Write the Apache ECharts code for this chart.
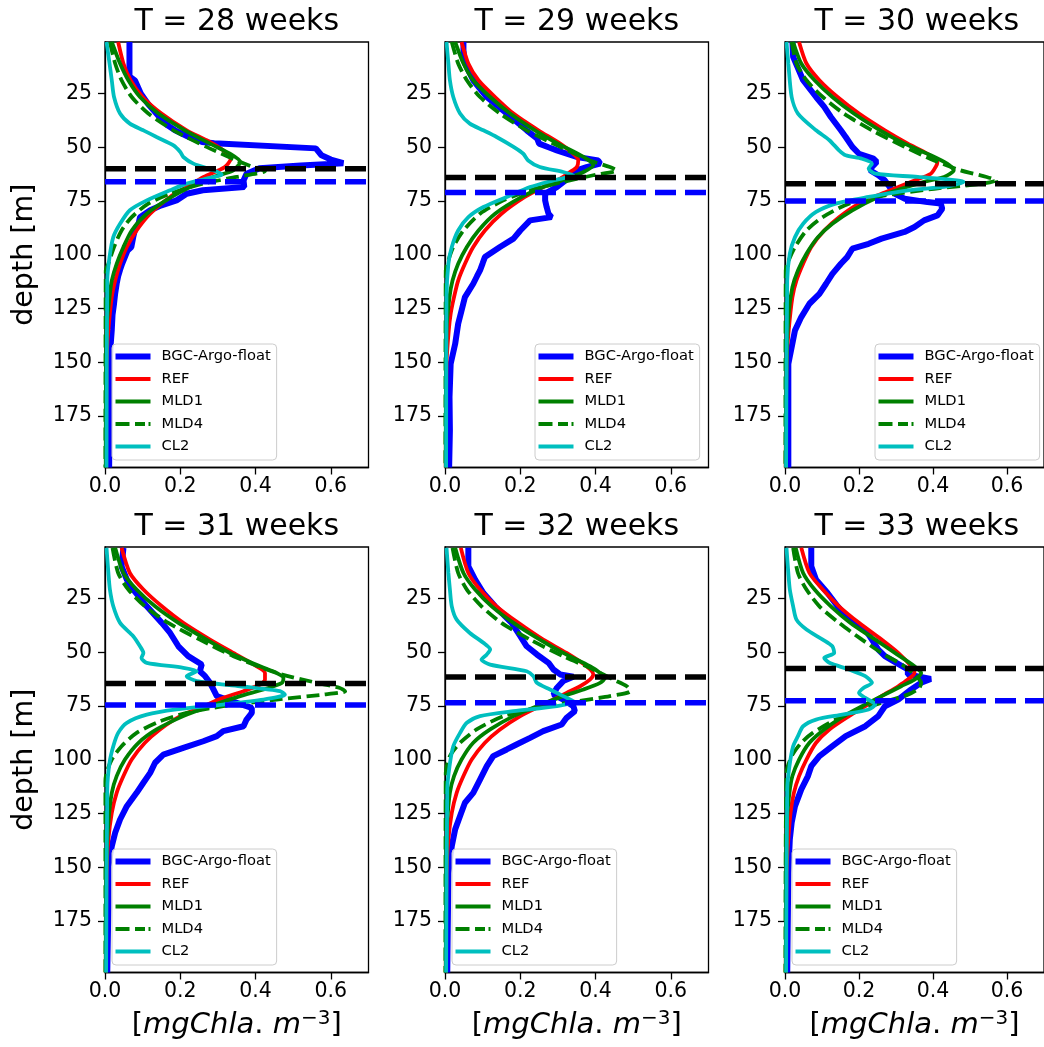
<!DOCTYPE html>
<html><head><meta charset="utf-8">
<script src="https://cdn.jsdelivr.net/npm/echarts@6/dist/echarts.min.js"></script>
<style>html,body{margin:0;padding:0;background:#fff;overflow:hidden}#c{width:1044px;height:1047px}</style>
</head><body><div id="c"></div>
<script>
// ---------------- DATA (pairs are [depth m, chl mg m^-3]) ----------------
const weeks = [28, 29, 30, 31, 32, 33];
const seriesNames = ['BGC-Argo-float', 'REF', 'MLD1', 'MLD4', 'CL2'];
const xTicks = [0, 0.2, 0.4, 0.6];
const yTicks = [25, 50, 75, 100, 125, 150, 175];
const depthMin = 1, depthMax = 199;
const blackLineDepth = [60, 64, 67, 64.5, 61.5, 57.5];
const blueLineDepth  = [66, 71, 75, 74.5, 73.5, 72.5];

const float28 = [[1,0.065],[17,0.065],[19,0.08],[21,0.085],[25,0.095],[30,0.115],[35,0.14],[40,0.168],[42,0.185],[45,0.22],[47.5,0.258],[48.1,0.29],[50.5,0.56],[53.7,0.575],[55.7,0.6],[57.4,0.633],[58.5,0.52],[59.8,0.41],[62.3,0.376],[65.4,0.368],[68.5,0.37],[70,0.26],[71.6,0.217],[74.7,0.19],[77,0.15],[79.3,0.12],[82.5,0.093],[85.6,0.089],[88,0.08],[91.8,0.075],[96.4,0.07],[98,0.06],[101,0.053],[104,0.046],[107,0.04],[110,0.035],[113.5,0.031],[118,0.027],[122.8,0.024],[128,0.02],[135,0.018],[142,0.015],[150.8,0.013],[165,0.012],[180,0.012],[199,0.011]];
const ref28 = [[1,0.035],[11,0.049],[18.8,0.068],[26.6,0.10],[34.3,0.15],[42.1,0.217],[46.7,0.27],[51.4,0.314],[55.3,0.334],[59.2,0.318],[63.8,0.262],[68.5,0.217],[73.1,0.173],[80.9,0.12],[88.7,0.084],[96.4,0.058],[104.2,0.04],[112,0.027],[119.7,0.018],[135.2,0.009],[150.8,0.004],[199,0.003]];
const mld1_28 = [[1,0.018],[11,0.04],[18.8,0.062],[26.6,0.093],[34.3,0.142],[42.1,0.212],[48.3,0.279],[53,0.332],[56.8,0.359],[60.7,0.341],[63.8,0.288],[68.5,0.226],[73.1,0.177],[80.9,0.111],[88.7,0.071],[96.4,0.049],[104.2,0.031],[112,0.018],[119.7,0.012],[135.2,0.004],[199,0.002]];
const mld4_28 = [[1,0.013],[11,0.027],[18.8,0.044],[26.6,0.071],[34.3,0.115],[42.1,0.182],[49.8,0.27],[56.1,0.35],[59.2,0.394],[61,0.425],[63.8,0.35],[66.9,0.261],[71.6,0.173],[76.2,0.115],[82.5,0.071],[88.7,0.044],[96.4,0.024],[104.2,0.009],[107.3,0.002],[199,0.001]];
const cl2_28 = [[1,0.004],[11,0.012],[18.8,0.018],[26.6,0.024],[34.3,0.04],[39,0.066],[42.1,0.102],[45.2,0.137],[49.1,0.182],[52.2,0.2],[54.5,0.208],[57.6,0.235],[60.7,0.288],[62.6,0.31],[64.6,0.27],[66.9,0.217],[70,0.173],[74.7,0.111],[79.3,0.066],[85.6,0.04],[91.8,0.022],[101.1,0.012],[112,0.006],[199,0.004]];

const float29 = [[1,0.049],[4.8,0.049],[11,0.053],[18.8,0.075],[26.6,0.111],[34.3,0.164],[42.1,0.217],[46,0.245],[48.3,0.25],[50,0.275],[51.4,0.297],[54.5,0.35],[56.1,0.407],[57.6,0.412],[59.2,0.376],[60.7,0.35],[63.8,0.332],[68.5,0.297],[71.6,0.266],[74.7,0.266],[77.8,0.27],[80.9,0.275],[82.5,0.283],[84,0.226],[88.7,0.2],[92.5,0.182],[96.4,0.146],[101.1,0.106],[104,0.1],[107.3,0.093],[110,0.085],[113.5,0.075],[119.7,0.053],[125.9,0.044],[132.1,0.035],[141.5,0.027],[150.8,0.015],[166.3,0.012],[181.8,0.013],[199,0.011]];
const ref29 = [[1,0.044],[11,0.062],[18.8,0.089],[26.6,0.133],[34.3,0.182],[42.1,0.248],[48.3,0.306],[53,0.341],[56.1,0.354],[59.2,0.35],[61.5,0.332],[64.6,0.306],[68.5,0.261],[73.1,0.212],[80.9,0.15],[88.7,0.106],[96.4,0.075],[104.2,0.053],[112,0.035],[119.7,0.024],[127.5,0.015],[135.2,0.01],[150.8,0.004],[199,0.002]];
const mld1_29 = [[1,0.027],[11,0.049],[18.8,0.075],[26.6,0.12],[34.3,0.173],[42.1,0.239],[48.3,0.30],[54.5,0.368],[58.4,0.394],[61.5,0.368],[64.6,0.323],[68.5,0.261],[73.1,0.204],[80.9,0.133],[88.7,0.089],[96.4,0.058],[104.2,0.035],[112,0.02],[119.7,0.012],[135.2,0.004],[199,0.002]];
const mld4_29 = [[1,0.018],[11,0.035],[18.8,0.058],[26.6,0.093],[34.3,0.146],[42.1,0.217],[49.8,0.306],[56.1,0.385],[59.2,0.438],[60.7,0.456],[63,0.394],[66.1,0.314],[70,0.226],[74.7,0.155],[80.9,0.093],[88.7,0.049],[96.4,0.022],[104.2,0.006],[107.3,0.002],[199,0.001]];
const cl2_29 = [[1,0.004],[11,0.009],[18.8,0.013],[26.6,0.022],[34.3,0.04],[39,0.066],[42.1,0.102],[45.2,0.137],[49.8,0.182],[53,0.208],[56.1,0.221],[59.2,0.252],[61.5,0.314],[63,0.341],[65.4,0.288],[68.5,0.226],[73.1,0.164],[77.8,0.102],[82.5,0.062],[88.7,0.035],[96.4,0.018],[104.2,0.009],[119.7,0.004],[199,0.003]];

const float30 = [[1,0.02],[7.9,0.022],[18.8,0.049],[26.6,0.084],[31.2,0.106],[35.9,0.124],[42.1,0.151],[45.2,0.164],[49.8,0.182],[53,0.2],[55.3,0.239],[56.8,0.248],[59.2,0.235],[60.7,0.23],[63,0.252],[65.4,0.27],[68.5,0.283],[71.6,0.297],[73.9,0.323],[75.5,0.385],[76.2,0.421],[78.6,0.425],[81.7,0.412],[84,0.376],[87.1,0.35],[89.4,0.323],[92.5,0.261],[94.9,0.226],[97.2,0.182],[101.1,0.168],[104.2,0.151],[108.9,0.128],[113.5,0.111],[118.2,0.093],[122.8,0.066],[129,0.044],[135.2,0.027],[143,0.018],[150.8,0.009],[170,0.009],[199,0.009]];
const ref30 = [[1,0.038],[11,0.058],[18.8,0.093],[26.6,0.142],[34.3,0.20],[42.1,0.27],[48.3,0.332],[53,0.385],[56.8,0.412],[59.2,0.407],[62.3,0.394],[65.4,0.35],[68.5,0.306],[71.6,0.261],[76.2,0.20],[82.5,0.146],[88.7,0.106],[96.4,0.071],[104.2,0.049],[112,0.031],[119.7,0.02],[135.2,0.01],[150.8,0.004],[199,0.002]];
const mld1_30 = [[1,0.022],[11,0.044],[18.8,0.08],[26.6,0.128],[34.3,0.186],[42.1,0.257],[48.3,0.323],[53.7,0.394],[57.6,0.438],[60.7,0.456],[63.8,0.43],[66.1,0.376],[69.3,0.314],[73.1,0.252],[79.3,0.182],[85.6,0.128],[91.8,0.089],[99.5,0.058],[107.3,0.035],[115.1,0.02],[127.5,0.01],[150.8,0.004],[199,0.002]];
const mld4_30 = [[1,0.018],[11,0.031],[18.8,0.058],[26.6,0.102],[34.3,0.159],[42.1,0.235],[49.8,0.323],[56.1,0.403],[60.7,0.474],[63.8,0.545],[65.4,0.571],[67.2,0.518],[69.3,0.403],[72.4,0.27],[76.2,0.173],[82.5,0.102],[88.7,0.058],[96.4,0.027],[104.2,0.006],[107.3,0.002],[199,0.001]];
const cl2_30 = [[1,0.004],[11,0.009],[26.6,0.018],[34.3,0.035],[42.1,0.084],[46.7,0.12],[51.4,0.146],[53.7,0.164],[55.3,0.208],[57.6,0.235],[59.9,0.226],[62.3,0.244],[63.8,0.359],[66.1,0.483],[68.2,0.438],[70,0.332],[73.1,0.226],[76.2,0.137],[80.1,0.084],[85.6,0.049],[91.8,0.027],[99.5,0.013],[112,0.006],[199,0.003]];

const float31 = [[1.4,0.049],[10,0.044],[16.2,0.058],[20.8,0.075],[28.6,0.111],[36.3,0.151],[41,0.173],[47.2,0.195],[51.8,0.221],[55.7,0.257],[58.8,0.252],[61.1,0.266],[64.2,0.279],[67.3,0.288],[70.4,0.297],[73.5,0.35],[75.9,0.39],[78.2,0.39],[81.3,0.376],[84.4,0.368],[86.7,0.314],[89,0.297],[91.4,0.261],[94.5,0.208],[97.6,0.155],[101.4,0.133],[106.1,0.12],[110.7,0.102],[115.4,0.084],[121.6,0.058],[127.8,0.04],[134,0.027],[140.2,0.018],[149.5,0.009],[168.1,0.009],[199,0.006]];
const ref31 = [[1.4,0.044],[13.1,0.066],[20.8,0.102],[28.6,0.151],[36.3,0.208],[44.1,0.279],[50.3,0.341],[56.5,0.403],[59.6,0.425],[62.7,0.425],[65,0.412],[68.1,0.368],[71.2,0.314],[75.1,0.261],[79.7,0.20],[85.9,0.146],[92.1,0.106],[99.9,0.071],[107.6,0.049],[115.4,0.031],[124.7,0.018],[137.1,0.009],[152.6,0.004],[199,0.002]];
const mld1_31 = [[1.4,0.027],[13.1,0.049],[20.8,0.084],[28.6,0.133],[36.3,0.195],[44.1,0.27],[50.3,0.332],[56.5,0.412],[59.6,0.456],[61.9,0.474],[64.2,0.47],[67.3,0.421],[70.4,0.359],[75.1,0.279],[79.7,0.208],[85.9,0.137],[92.1,0.089],[99.9,0.053],[107.6,0.031],[115.4,0.018],[129.3,0.009],[152.6,0.003],[199,0.002]];
const mld4_31 = [[1.4,0.02],[13.1,0.035],[20.8,0.062],[28.6,0.106],[36.3,0.168],[44.1,0.252],[51.8,0.341],[59.6,0.456],[64.2,0.562],[66.6,0.624],[68.1,0.638],[69.7,0.58],[72,0.456],[75.1,0.314],[78.2,0.217],[82.1,0.146],[87.5,0.084],[93.7,0.044],[99.9,0.018],[106.1,0.004],[110,0.001],[199,0.001]];
const cl2_31 = [[1.4,0.004],[13.1,0.009],[20.8,0.013],[28.6,0.022],[36.3,0.04],[42.5,0.075],[47.2,0.093],[50.3,0.102],[52.6,0.097],[54.9,0.111],[57.2,0.208],[58.8,0.244],[61.1,0.217],[63.4,0.244],[65.8,0.359],[68.1,0.465],[69.7,0.478],[72,0.421],[74.3,0.314],[76.6,0.19],[79,0.111],[82.8,0.058],[87.5,0.035],[93.7,0.022],[101.4,0.012],[113.8,0.006],[199,0.003]];

const float32 = [[1.4,0.062],[10,0.062],[16.2,0.08],[22.4,0.102],[28.6,0.133],[36.3,0.177],[42.5,0.2],[47.2,0.217],[51,0.244],[54.9,0.275],[58,0.288],[60.3,0.306],[61.4,0.341],[63.4,0.314],[66.6,0.297],[69.7,0.288],[72,0.314],[75.1,0.341],[77.4,0.345],[80.5,0.323],[83.6,0.31],[86.7,0.261],[89.8,0.226],[92.9,0.19],[95.2,0.164],[98.3,0.128],[103,0.111],[109.2,0.093],[115.4,0.075],[120,0.053],[126.2,0.04],[132.4,0.027],[140.2,0.018],[152.6,0.009],[199,0.006]];
const ref32 = [[1.4,0.042],[13.1,0.062],[20.8,0.093],[28.6,0.137],[36.3,0.195],[44.1,0.261],[50.3,0.323],[56.5,0.376],[60.3,0.394],[62.7,0.385],[65.8,0.359],[68.9,0.323],[72,0.288],[75.1,0.252],[79.7,0.20],[85.9,0.146],[92.1,0.106],[99.9,0.071],[107.6,0.049],[115.4,0.031],[124.7,0.018],[137.1,0.009],[152.6,0.004],[199,0.002]];
const mld1_32 = [[1.4,0.027],[13.1,0.049],[20.8,0.08],[28.6,0.124],[36.3,0.182],[44.1,0.252],[50.3,0.314],[56.5,0.385],[59.6,0.412],[61.9,0.425],[64.2,0.412],[67.3,0.368],[70.4,0.314],[75.1,0.244],[79.7,0.182],[85.9,0.12],[92.1,0.075],[99.9,0.044],[107.6,0.024],[115.4,0.013],[129.3,0.006],[152.6,0.003],[199,0.002]];
const mld4_32 = [[1.4,0.02],[13.1,0.035],[20.8,0.058],[28.6,0.097],[36.3,0.15],[44.1,0.226],[51.8,0.314],[58,0.394],[62.7,0.447],[65.8,0.483],[68.1,0.492],[70.4,0.438],[72.8,0.35],[75.9,0.244],[79.7,0.155],[85.9,0.084],[92.1,0.04],[98.3,0.013],[106.1,0.002],[199,0.001]];
const cl2_32 = [[1.4,0.004],[13.1,0.009],[20.8,0.013],[28.6,0.018],[34.8,0.031],[41,0.066],[45.6,0.102],[48.7,0.12],[51,0.111],[53.4,0.097],[55.7,0.12],[58.8,0.217],[61.1,0.235],[64.2,0.244],[67.3,0.279],[70.4,0.314],[72.8,0.341],[75.1,0.297],[77.4,0.182],[79.7,0.093],[82.8,0.058],[87.5,0.04],[93.7,0.022],[103,0.012],[113.8,0.006],[199,0.003]];

const float33 = [[1.4,0.071],[10,0.071],[16.2,0.084],[22.4,0.115],[28.6,0.142],[34.8,0.173],[39.4,0.217],[44.1,0.235],[48.7,0.252],[51.8,0.27],[54.9,0.301],[58,0.332],[60.3,0.332],[62.4,0.394],[64.2,0.368],[67.3,0.341],[72,0.306],[75.1,0.27],[79.7,0.252],[84.4,0.217],[89,0.164],[93.7,0.128],[98.3,0.093],[103,0.071],[107.6,0.062],[113.8,0.044],[121.6,0.027],[129.3,0.018],[137.1,0.013],[152.6,0.009],[199,0.006]];
const ref33 = [[1.4,0.044],[13.1,0.066],[20.8,0.102],[28.6,0.146],[36.3,0.20],[44.1,0.261],[50.3,0.306],[56.5,0.341],[59.6,0.35],[62.7,0.332],[65.8,0.306],[70.4,0.261],[75.1,0.217],[79.7,0.173],[85.9,0.12],[92.1,0.084],[99.9,0.058],[107.6,0.038],[115.4,0.024],[124.7,0.015],[137.1,0.009],[152.6,0.004],[199,0.002]];
const mld1_33 = [[1.4,0.029],[13.1,0.049],[20.8,0.08],[28.6,0.124],[36.3,0.177],[44.1,0.244],[50.3,0.297],[56.5,0.35],[59.6,0.368],[62.7,0.35],[65.8,0.314],[70.4,0.261],[75.1,0.208],[79.7,0.159],[85.9,0.106],[92.1,0.066],[99.9,0.038],[107.6,0.02],[115.4,0.012],[129.3,0.005],[152.6,0.003],[199,0.002]];
const mld4_33 = [[1.4,0.022],[13.1,0.035],[20.8,0.058],[28.6,0.093],[36.3,0.146],[44.1,0.208],[50.3,0.261],[56.5,0.323],[61.1,0.354],[64.2,0.368],[66.6,0.363],[69.7,0.332],[73.5,0.261],[76.6,0.208],[81.3,0.137],[87.5,0.075],[92.1,0.044],[98.3,0.018],[106.1,0.004],[199,0.001]];
const cl2_33 = [[1.4,0.004],[13.1,0.009],[20.8,0.013],[28.6,0.022],[34.8,0.031],[39.4,0.058],[44.1,0.102],[47.2,0.128],[50.3,0.133],[52.6,0.106],[54.9,0.12],[58,0.173],[61.1,0.217],[64.2,0.235],[66.6,0.212],[68.9,0.2],[71.2,0.217],[74.3,0.244],[76.6,0.226],[79,0.155],[81.3,0.084],[84.4,0.049],[89,0.035],[93.7,0.022],[103,0.012],[113.8,0.006],[199,0.003]];

const floatAll = [float28, float29, float30, float31, float32, float33];
const refAll   = [ref28, ref29, ref30, ref31, ref32, ref33];
const mld1All  = [mld1_28, mld1_29, mld1_30, mld1_31, mld1_32, mld1_33];
const mld4All  = [mld4_28, mld4_29, mld4_30, mld4_31, mld4_32, mld4_33];
const cl2All   = [cl2_28, cl2_29, cl2_30, cl2_31, cl2_32, cl2_33];
const legendRight = [false, true, true, false, false, false];

// ---------------- LAYOUT / STYLE ----------------
const FONT = 'DejaVu Sans';
const colLeft = [105, 445, 785];
const rowTop = [42, 547];
const PW = 263.5, PH = 425.5;
const C_BLUE = '#0000ff', C_RED = '#ff0000', C_GREEN = '#008000', C_CYAN = '#00bfbf';
const W_FLOAT = 6, W_MODEL = 3.8, W_HLINE = 5.5;

// legend swatches (short line samples)
const ICON_THICK = 'path://M0,0h35v6h-35z';
const ICON_THIN = 'path://M0,0h35v3.8h-35z';
const ICON_DASH = 'path://M0,0h14v3.8h-14z M19.5,0h10v3.8h-10z M33,0h2v3.8h-2z';
const legendIcons = [ICON_THICK, ICON_THIN, ICON_THIN, ICON_DASH, ICON_THIN];

const grids = [], xAxes = [], yAxes = [], titles = [], legends = [], series = [];
const toXY = arr => arr.map(p => [p[1], p[0]]);

for (let i = 0; i < 6; i++) {
  const col = i % 3, row = Math.floor(i / 3);
  const L = colLeft[col], T = rowTop[row];
  grids.push({ left: L, top: T, width: PW, height: PH, show: true, borderColor: '#000', borderWidth: 1.3, backgroundColor: 'transparent', containLabel: false });
  titles.push({ text: 'T = ' + weeks[i] + ' weeks', left: L + PW / 2, top: T - 35, textAlign: 'center', padding: 0,
    textStyle: { fontFamily: FONT, fontSize: 30, fontWeight: 'normal', color: '#000' } });
  xAxes.push({
    gridIndex: i, type: 'value', min: 0, max: 0.7,
    axisLine: { show: true, onZero: false, lineStyle: { color: '#000', width: 1.3 } },
    axisTick: { show: true, length: 7, customValues: xTicks, lineStyle: { color: '#000', width: 1.3 } },
    axisLabel: { customValues: xTicks, formatter: v => v.toFixed(1), fontFamily: FONT, fontSize: 20.5, color: '#000', margin: 9 },
    splitLine: { show: false },
    name: row === 1 ? '{b|[}{i|mgChla}{b|.}{i| m}{s|−3}{b|]}' : '',
    nameLocation: 'middle', nameGap: 36,
    nameTextStyle: { rich: {
      b: { fontFamily: FONT, fontSize: 29, color: '#000', lineHeight: 34 },
      i: { fontFamily: FONT, fontSize: 29, fontStyle: 'italic', color: '#000', lineHeight: 34 },
      s: { fontFamily: FONT, fontSize: 20, color: '#000', lineHeight: 19, verticalAlign: 'top' }
    } }
  });
  yAxes.push({
    gridIndex: i, type: 'value', inverse: true, min: depthMin, max: depthMax,
    axisLine: { show: true, onZero: false, lineStyle: { color: '#000', width: 1.3 } },
    axisTick: { show: true, length: 7, customValues: yTicks, lineStyle: { color: '#000', width: 1.3 } },
    axisLabel: { customValues: yTicks, fontFamily: FONT, fontSize: 20.5, color: '#000', margin: 13 },
    splitLine: { show: false },
    name: col === 0 ? 'depth [m]' : '', nameLocation: 'middle', nameGap: 66, nameRotate: 90,
    nameTextStyle: { fontFamily: FONT, fontSize: 28.5, color: '#000' }
  });
  const lg = {
    orient: 'vertical', top: T + PH - 8.5 - 115,
    data: seriesNames.map((n, k) => ({ name: n, icon: legendIcons[k] })),
    selectedMode: false, symbolKeepAspect: true,
    itemWidth: 35, itemHeight: 14, itemGap: 7.5,
    padding: [5, 6, 6, 3.5],
    backgroundColor: 'rgba(255,255,255,0.85)', borderColor: '#cccccc', borderWidth: 1, borderRadius: 4,
    textStyle: { fontFamily: FONT, fontSize: 14.7, color: '#000', padding: [0, 0, 0, 6], lineHeight: 15 }
  };
  if (legendRight[i]) lg.left = L + PW - 8.5 - 165; else lg.left = L + 7;
  legends.push(lg);

  const base = { type: 'line', xAxisIndex: i, yAxisIndex: i, symbol: 'none', showSymbol: false, animation: false, silent: true };
  series.push(Object.assign({}, base, { name: 'BGC-Argo-float', data: toXY(floatAll[i]), lineStyle: { color: C_BLUE, width: W_FLOAT }, itemStyle: { color: C_BLUE }, z: 2 }));
  series.push(Object.assign({}, base, { name: 'REF', data: toXY(refAll[i]), smooth: 0.25, lineStyle: { color: C_RED, width: W_MODEL }, itemStyle: { color: C_RED }, z: 3 }));
  series.push(Object.assign({}, base, { name: 'MLD1', data: toXY(mld1All[i]), smooth: 0.25, lineStyle: { color: C_GREEN, width: W_MODEL }, itemStyle: { color: C_GREEN }, z: 4 }));
  series.push(Object.assign({}, base, { name: 'MLD4', data: toXY(mld4All[i]), smooth: 0.25, lineStyle: { color: C_GREEN, width: W_MODEL, type: [13, 5.5] }, itemStyle: { color: C_GREEN }, z: 5 }));
  series.push(Object.assign({}, base, { name: 'CL2', data: toXY(cl2All[i]), smooth: 0.25, lineStyle: { color: C_CYAN, width: W_MODEL }, itemStyle: { color: C_CYAN }, z: 6 }));
  series.push(Object.assign({}, base, { name: 'mldBlack' + i, data: [[0, blackLineDepth[i]], [0.7, blackLineDepth[i]]], lineStyle: { color: '#000', width: W_HLINE, type: [21, 9] }, z: 7 }));
  series.push(Object.assign({}, base, { name: 'mldBlue' + i, data: [[0, blueLineDepth[i]], [0.7, blueLineDepth[i]]], lineStyle: { color: C_BLUE, width: W_HLINE, type: [21, 9] }, z: 7 }));
}

const chart = echarts.init(document.getElementById('c'), null, { renderer: 'canvas' });
chart.setOption({
  animation: false,
  backgroundColor: '#ffffff',
  textStyle: { fontFamily: FONT },
  title: titles, grid: grids, xAxis: xAxes, yAxis: yAxes, legend: legends, series: series
});
</script></body></html>
